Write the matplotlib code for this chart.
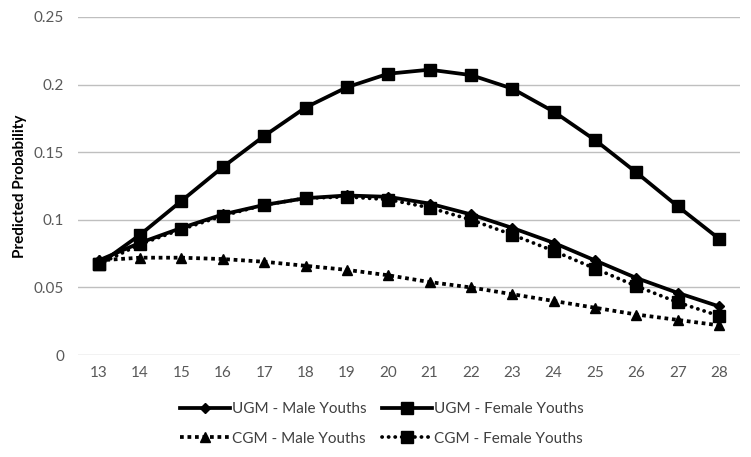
import matplotlib
matplotlib.use("Agg")
import matplotlib.pyplot as plt

ages = list(range(13, 29))
ugm_male = [0.070, 0.083, 0.094, 0.104, 0.111, 0.116, 0.118, 0.117, 0.112, 0.104, 0.094, 0.083, 0.070, 0.057, 0.046, 0.036]
ugm_female = [0.067, 0.089, 0.114, 0.139, 0.162, 0.183, 0.198, 0.208, 0.211, 0.207, 0.197, 0.180, 0.159, 0.135, 0.110, 0.086]
cgm_male = [0.070, 0.072, 0.072, 0.071, 0.069, 0.066, 0.063, 0.059, 0.054, 0.050, 0.045, 0.040, 0.035, 0.030, 0.026, 0.022]
cgm_female = [0.067, 0.082, 0.093, 0.103, 0.111, 0.116, 0.117, 0.115, 0.109, 0.100, 0.089, 0.077, 0.064, 0.051, 0.039, 0.029]
yticks = [0, 0.05, 0.1, 0.15, 0.2, 0.25]
ytick_labels = ["0", "0.05", "0.1", "0.15", "0.2", "0.25"]

plt.rcParams['font.family'] = ['Lato', 'DejaVu Sans']

fig = plt.figure(figsize=(7.51, 4.57), dpi=100)
ax = fig.add_axes([0.104, 0.223, 0.881, 0.740])

lw = 2.7
ax.plot(ages, cgm_male, color='black', lw=lw, linestyle=(0, (1.0, 1.0)), dash_capstyle='butt',
        marker='^', ms=7.5, label='CGM - Male Youths', zorder=3)
ax.plot(ages, cgm_female, color='black', lw=lw, linestyle=(0, (0.05, 1.7)), dash_capstyle='round',
        marker='s', ms=8, label='CGM - Female Youths', zorder=3)
ax.plot(ages, ugm_male, color='black', lw=lw, linestyle='-', marker='D', ms=5.5,
        label='UGM - Male Youths', zorder=4)
ax.plot(ages, ugm_female, color='black', lw=lw, linestyle='-', marker='s', ms=9,
        label='UGM - Female Youths', zorder=4)

ax.set_xlim(12.5, 28.5)
ax.set_ylim(0, 0.25)
ax.set_xticks(ages)
ax.set_xticklabels([str(a) for a in ages])
ax.set_yticks(yticks)
ax.set_yticklabels(ytick_labels)
ax.tick_params(axis='both', length=0, labelsize=11, labelcolor='#595959', pad=10)
ax.tick_params(axis='x', pad=8)
ax.grid(axis='y', color='#bfbfbf', lw=1)
ax.set_axisbelow(True)
for s in ax.spines.values():
    s.set_visible(False)
ax.set_ylabel('Predicted Probability', fontsize=11, fontweight='bold', labelpad=5)

handles, labels = ax.get_legend_handles_labels()
order = [2, 0, 3, 1]
leg = fig.legend([handles[i] for i in order], [labels[i] for i in order],
                 loc='lower center', bbox_to_anchor=(0.508, -0.005), ncol=2, frameon=False,
                 fontsize=11, handlelength=3.3, handletextpad=0.1, columnspacing=1.0,
                 labelspacing=1.0)
for t in leg.get_texts():
    t.set_color('#404040')

fig.savefig('out.png', dpi=100)
